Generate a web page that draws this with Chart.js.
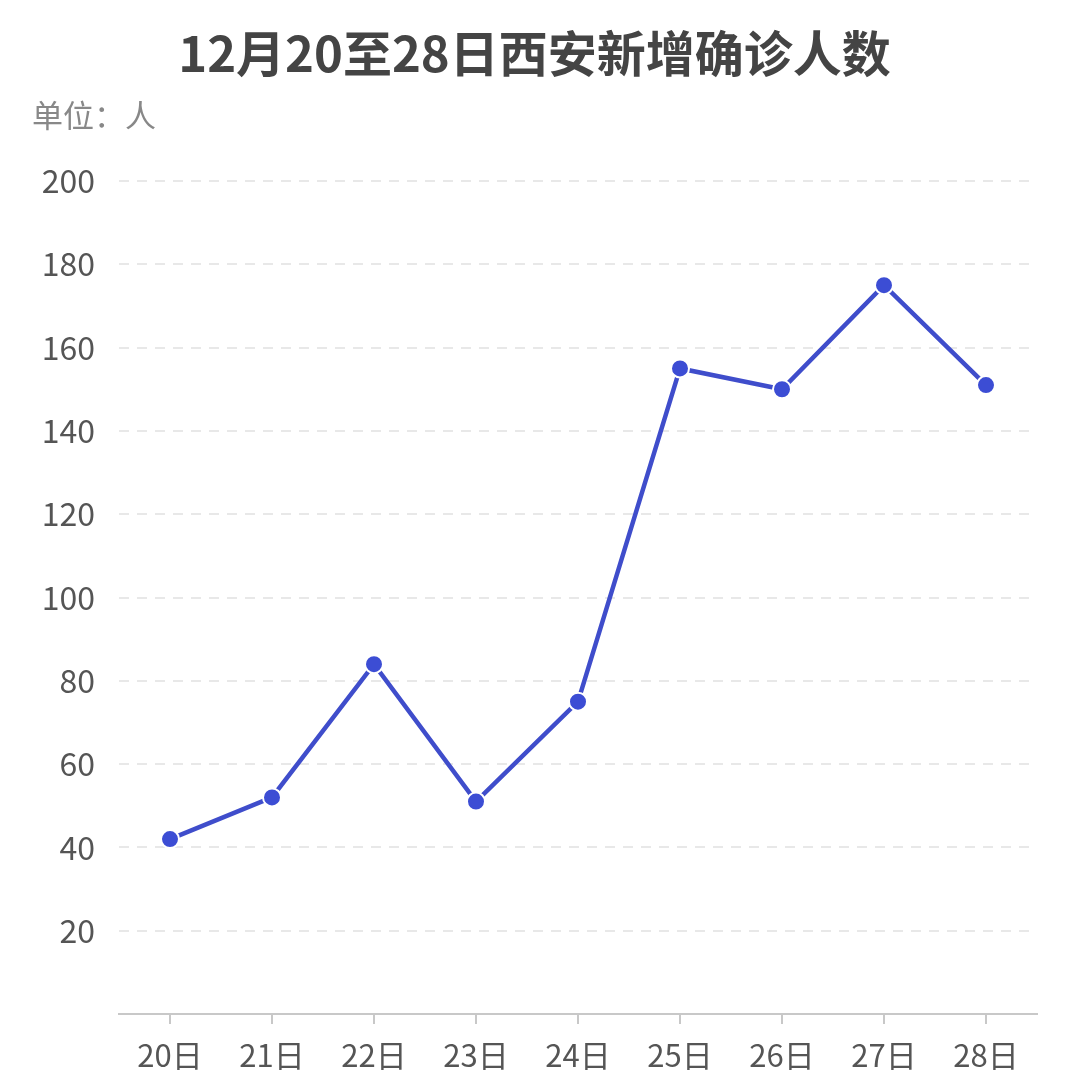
<!DOCTYPE html>
<html>
<head>
<meta charset="utf-8">
<script src="https://cdn.jsdelivr.net/npm/chart.js@4/dist/chart.umd.min.js"></script>
<style>
  html, body { margin: 0; padding: 0; background: #fff; }
  #wrap { width: 1080px; height: 1078px; }
</style>
</head>
<body>
<div id="wrap"><canvas id="myChart"></canvas></div>
<script>
// 日期与每日新增
var days = ['20日', '21日', '22日', '23日', '24日', '25日', '26日', '27日', '28日'];
var newCases = [42, 52, 84, 51, 75, 155, 150, 175, 151];
var yTicks = [0, 20, 40, 60, 80, 100, 120, 140, 160, 180, 200];

var FONT = '"Noto Sans CJK SC", "Noto Sans", sans-serif';

var ctx = document.getElementById('myChart');

if (ctx) {
    var myChart = new Chart(ctx, {
        type: 'line',
        data: {
            labels: days,
            datasets: [{
                label: '新增确诊',
                data: newCases,
                borderColor: '#3f4dcb',
                borderWidth: 4.5,
                pointBackgroundColor: '#3c4dd4',
                pointBorderColor: '#ffffff',
                pointBorderWidth: 2,
                pointRadius: 9,
                tension: 0
            }]
        },
        options: {
            responsive: true,
            maintainAspectRatio: false,
            animation: false,
            layout: {
                padding: { left: 32, right: 43, top: 0, bottom: 0 }
            },
            scales: {
                x: {
                    offset: true,
                    grid: {
                        drawOnChartArea: false,
                        color: '#c8c8c8',
                        lineWidth: 2,
                        tickLength: 10
                    },
                    border: { display: true, color: '#c8c8c8', width: 2 },
                    ticks: {
                        color: '#555',
                        padding: 13,
                        maxRotation: 0,
                        font: { family: FONT, size: 31 }
                    },
                    afterFit: function (scale) { scale.height = 64; }
                },
                y: {
                    min: 0,
                    max: 200,
                    afterBuildTicks: function (scale) {
                        scale.ticks = yTicks.map(function (v) { return { value: v }; });
                    },
                    grid: {
                        color: '#e8e8e8',
                        lineWidth: 2,
                        drawTicks: false
                    },
                    border: { display: false, dash: [10, 8] },
                    ticks: {
                        color: '#555',
                        padding: 24,
                        font: { family: FONT, size: 32 },
                        callback: function (v) { return v === 0 ? '' : v; }
                    },
                    afterFit: function (scale) { scale.width = 87; }
                }
            },
            plugins: {
                legend: { display: false },
                tooltip: { enabled: false },
                title: {
                    display: true,
                    text: '12月20至28日西安新增确诊人数',
                    color: '#444',
                    font: { family: FONT, size: 49, weight: 'bold' },
                    padding: { top: 24, bottom: 0 }
                },
                subtitle: {
                    display: true,
                    text: '单位：人',
                    align: 'start',
                    color: '#888',
                    font: { family: FONT, size: 31 },
                    padding: { top: 14, bottom: 47 }
                }
            }
        }
    });
} else {
    console.error("Canvas element with ID 'myChart' not found.");
}
</script>
</body>
</html>
